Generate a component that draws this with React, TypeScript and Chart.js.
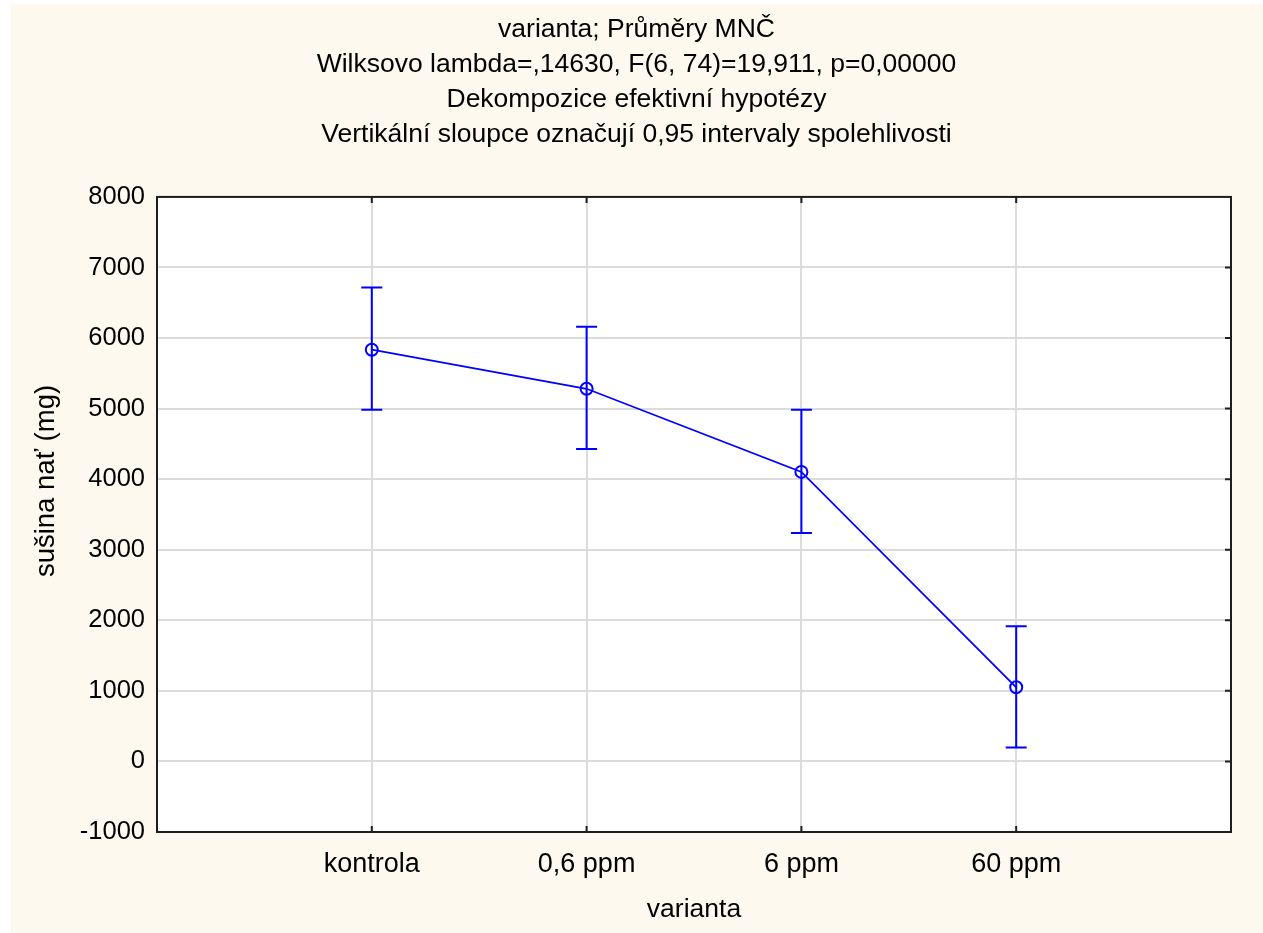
import React, { useEffect, useRef } from 'react';
import { Chart, registerables } from 'chart.js';

Chart.register(...registerables);

const categories = ['kontrola', '0,6 ppm', '6 ppm', '60 ppm'];
const means = [5835, 5281, 4103, 1051];
const lowerCI = [4983, 4429, 3237, 199];
const upperCI = [6715, 6161, 4983, 1917];
const yMin = -1000;
const yMax = 8000;
const yStep = 1000;
const titleLines = [
  'varianta; Průměry MNČ',
  'Wilksovo lambda=,14630, F(6, 74)=19,911, p=0,00000',
  'Dekompozice efektivní hypotézy',
  'Vertikální sloupce označují 0,95 intervaly spolehlivosti',
];
const xTitle = 'varianta';
const yTitle = 'sušina nať (mg)';

const FONT = "'Liberation Sans', Arial, sans-serif";
const BLUE = '#0000ff';
const CREAM = '#fef9ef';

const backgroundPlugin = {
  id: 'bg',
  beforeDraw(chart: any) {
    const { ctx, chartArea } = chart;
    ctx.save();
    ctx.fillStyle = '#ffffff';
    ctx.fillRect(0, 0, chart.width, chart.height);
    ctx.fillStyle = CREAM;
    ctx.fillRect(11, 4, chart.width - 11, chart.height - 4);
    ctx.fillStyle = '#ffffff';
    ctx.fillRect(chartArea.left, chartArea.top, chartArea.right - chartArea.left, chartArea.bottom - chartArea.top);
    ctx.restore();
  },
};

const yTitlePlugin = {
  id: 'yTitle',
  afterDraw(chart: any) {
    const { ctx } = chart;
    ctx.save();
    ctx.fillStyle = '#000';
    ctx.font = `27.5px ${FONT}`;
    ctx.textAlign = 'center';
    ctx.textBaseline = 'middle';
    ctx.translate(46, 481);
    ctx.rotate(-Math.PI / 2);
    ctx.fillText(yTitle, 0, 0);
    ctx.restore();
  },
};

const errorBarPlugin = {
  id: 'errorBars',
  afterDatasetsDraw(chart: any) {
    const { ctx, scales } = chart;
    const xs = scales.x;
    const ys = scales.y;
    ctx.save();
    ctx.strokeStyle = BLUE;
    ctx.lineWidth = 2;
    for (let i = 0; i < means.length; i++) {
      const x = xs.getPixelForValue(i + 1);
      const yl = ys.getPixelForValue(lowerCI[i]);
      const yu = ys.getPixelForValue(upperCI[i]);
      ctx.beginPath();
      ctx.moveTo(x, yl);
      ctx.lineTo(x, yu);
      ctx.moveTo(x - 10.5, yl);
      ctx.lineTo(x + 10.5, yl);
      ctx.moveTo(x - 10.5, yu);
      ctx.lineTo(x + 10.5, yu);
      ctx.stroke();
    }
    ctx.restore();
  },
};

const framePlugin = {
  id: 'frame',
  afterDraw(chart: any) {
    const { ctx, chartArea, scales } = chart;
    const { left, right, top, bottom } = chartArea;
    ctx.save();
    ctx.strokeStyle = '#1e1e1e';
    ctx.lineWidth = 2;
    ctx.strokeRect(left, top, right - left, bottom - top);
    ctx.beginPath();
    for (let i = 0; i < categories.length; i++) {
      const x = scales.x.getPixelForValue(i + 1);
      ctx.moveTo(x, top);
      ctx.lineTo(x, top + 6);
      ctx.moveTo(x, bottom);
      ctx.lineTo(x, bottom - 6);
    }
    for (let v = yMin + yStep; v < yMax; v += yStep) {
      const y = scales.y.getPixelForValue(v);
      ctx.moveTo(right, y);
      ctx.lineTo(right - 6, y);
    }
    ctx.stroke();
    ctx.restore();
  },
};

export default function App() {
  const ref = useRef<HTMLCanvasElement | null>(null);
  useEffect(() => {
    document.body.style.margin = '0';
    const canvas = ref.current;
    if (!canvas) return;
    const chart = new Chart(canvas, {
      type: 'line',
      data: {
        datasets: [
          {
            data: means.map((m, i) => ({ x: i + 1, y: m })),
            borderColor: BLUE,
            borderWidth: 1.8,
            pointRadius: 6,
            pointBorderWidth: 2,
            pointBorderColor: BLUE,
            pointBackgroundColor: 'rgba(0,0,0,0)',
            fill: false,
            tension: 0,
          },
        ],
      },
      plugins: [backgroundPlugin, errorBarPlugin, framePlugin, yTitlePlugin],
      options: {
        responsive: false,
        animation: false,
        devicePixelRatio: 1,
        layout: { padding: { left: 10, right: 0, top: 0, bottom: 0 } },
        plugins: {
          legend: { display: false },
          tooltip: { enabled: false },
          title: {
            display: true,
            text: titleLines,
            color: '#000',
            font: { family: FONT, size: 26.5, weight: 'normal', lineHeight: 1.32 },
            padding: { top: 12, bottom: 45 },
          },
        },
        scales: {
          x: {
            type: 'linear',
            min: 0,
            max: 5,
            afterBuildTicks: (scale: any) => {
              scale.ticks = [0, 1, 2, 3, 4, 5].map((v) => ({ value: v }));
            },
            afterFit: (scale: any) => {
              scale.height = 101;
            },
            ticks: {
              autoSkip: false,
              maxRotation: 0,
              padding: 16,
              color: '#000',
              font: { family: FONT, size: 27 },
              callback: (v: any) => categories[Number(v) - 1] ?? '',
            },
            grid: { color: '#dcdcdc', lineWidth: 2, drawTicks: false },
            border: { display: false },
            title: {
              display: true,
              text: xTitle,
              color: '#000',
              font: { family: FONT, size: 26.5, lineHeight: 1.2 },
              padding: { top: 0, bottom: 7 },
            },
          },
          y: {
            type: 'linear',
            min: yMin,
            max: yMax,
            afterFit: (scale: any) => {
              scale.width = 147;
            },
            ticks: {
              stepSize: yStep,
              padding: 12,
              color: '#000',
              font: { family: FONT, size: 25.5 },
              callback: (v: any) => String(v),
            },
            grid: { color: '#dcdcdc', lineWidth: 2, drawTicks: false },
            border: { display: false },
            title: { display: false },
          },
          yRight: {
            type: 'linear',
            position: 'right',
            display: true,
            afterFit: (scale: any) => {
              scale.width = 32;
            },
            ticks: { display: false },
            grid: { display: false, drawTicks: false },
            border: { display: false },
          },
        },
      },
    } as any);
    return () => chart.destroy();
  }, []);
  return <canvas ref={ref} width={1263} height={933} style={{ display: 'block' }} />;
}
